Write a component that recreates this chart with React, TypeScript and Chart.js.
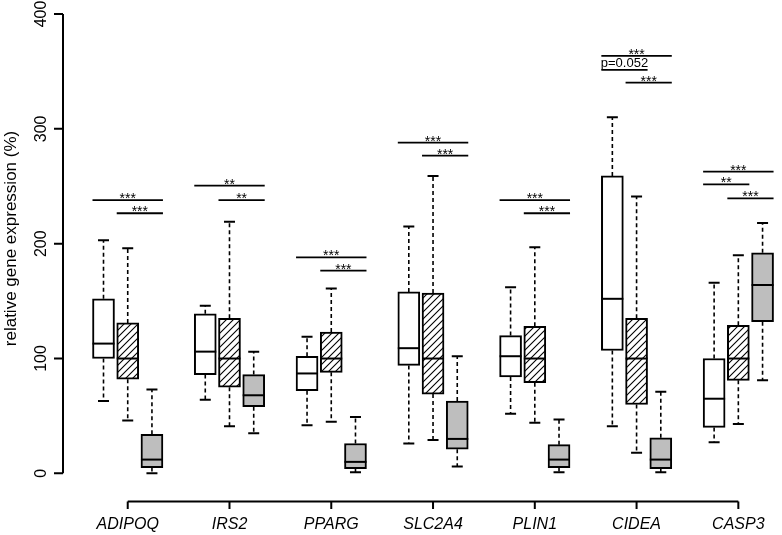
import React, { useEffect, useRef } from 'react';
import { Chart, registerables } from 'chart.js';

Chart.register(...registerables);

// ---------- data ----------
const GENES = ['ADIPOQ', 'IRS2', 'PPARG', 'SLC2A4', 'PLIN1', 'CIDEA', 'CASP3'];
const Y_TICKS = [0, 100, 200, 300, 400];
const Y_TITLE = 'relative gene expression (%)';

// group 1 (white)
const WHITE_MIN = [63, 64, 42, 26, 52, 41, 27];
const WHITE_Q1 = [100, 86, 72, 94, 84, 107, 40];
const WHITE_MED = [113, 106, 87, 109, 102, 152, 65];
const WHITE_Q3 = [152, 139, 102, 158, 120, 259, 100];
const WHITE_MAX = [203, 146, 119, 215, 162, 310, 166];

// group 2 (hatched)
const HATCH_MIN = [46, 41, 45, 29, 44, 18, 43];
const HATCH_Q1 = [82, 75, 88, 69, 79, 60, 81];
const HATCH_MED = [100, 100, 100, 100, 100, 100, 100];
const HATCH_Q3 = [131, 135, 123, 157, 128, 135, 129];
const HATCH_MAX = [196, 219, 161, 259, 197, 241, 190];

// group 3 (grey)
const GREY_MIN = [0, 35, 1, 6, 1, 1, 81];
const GREY_Q1 = [5, 58, 4, 21, 5, 4, 132];
const GREY_MED = [12, 68, 10, 30, 12, 12, 164];
const GREY_Q3 = [34, 86, 26, 63, 25, 31, 192];
const GREY_MAX = [73, 106, 49, 102, 47, 71, 218];

// significance brackets
const SIG_GENE = [0, 0, 1, 1, 2, 2, 3, 3, 4, 4, 5, 5, 5, 6, 6, 6];
const SIG_FROM = [0, 1, 0, 1, 0, 1, 0, 1, 0, 1, 0, 0, 1, 0, 0, 1];
const SIG_TO = [2, 2, 2, 2, 2, 2, 2, 2, 2, 2, 2, 1, 2, 2, 1, 2];
const SIG_Y = [238, 226.5, 250.5, 238, 188, 176.5, 288, 276.7, 238, 226.5, 363.5, 351.3, 340.2, 262.7, 251.7, 239.5];
const SIG_LABEL = ['***', '***', '**', '**', '***', '***', '***', '***', '***', '***', '***', 'p=0.052', '***', '***', '**', '***'];

// ---------- layout / style ----------
const FONT = "'Liberation Sans', Arial, Helvetica, sans-serif";
const GROUP_OFFSET = [-0.238, 0, 0.238];
const BOX_PX = 22;
const CAP_HALF_PX = 5.5;

const GROUPS = [
  { min: WHITE_MIN, q1: WHITE_Q1, med: WHITE_MED, q3: WHITE_Q3, max: WHITE_MAX },
  { min: HATCH_MIN, q1: HATCH_Q1, med: HATCH_MED, q3: HATCH_Q3, max: HATCH_MAX },
  { min: GREY_MIN, q1: GREY_Q1, med: GREY_MED, q3: GREY_Q3, max: GREY_MAX },
];

function makeHatch(): CanvasPattern | string {
  const s = 7;
  const c = document.createElement('canvas');
  c.width = s;
  c.height = s;
  const g = c.getContext('2d');
  if (!g) return '#fff';
  g.fillStyle = '#ffffff';
  g.fillRect(0, 0, s, s);
  g.strokeStyle = '#000';
  g.lineWidth = 1.1;
  g.beginPath();
  g.moveTo(-1, s + 1);
  g.lineTo(s + 1, -1);
  g.moveTo(-1, 1);
  g.lineTo(1, -1);
  g.moveTo(s - 1, s + 1);
  g.lineTo(s + 1, s - 1);
  g.stroke();
  return g.createPattern(c, 'repeat') || '#fff';
}

const whiskerPlugin = {
  id: 'whiskers',
  beforeDatasetsDraw(chart: any) {
    const { ctx, scales } = chart;
    const x = scales.x;
    const y = scales.y;
    ctx.save();
    ctx.strokeStyle = '#000';
    GROUPS.forEach((grp, gi) => {
      GENES.forEach((_, i) => {
        const cx = x.getPixelForValue(i + 1 + GROUP_OFFSET[gi]);
        const pMin = y.getPixelForValue(grp.min[i]);
        const pQ1 = y.getPixelForValue(grp.q1[i]);
        const pQ3 = y.getPixelForValue(grp.q3[i]);
        const pMax = y.getPixelForValue(grp.max[i]);
        ctx.lineWidth = 1.6;
        ctx.setLineDash([4, 3]);
        ctx.beginPath();
        ctx.moveTo(cx, pQ3);
        ctx.lineTo(cx, pMax);
        ctx.moveTo(cx, pQ1);
        ctx.lineTo(cx, pMin);
        ctx.stroke();
        ctx.setLineDash([]);
        ctx.lineWidth = 2;
        ctx.beginPath();
        ctx.moveTo(cx - CAP_HALF_PX, pMax);
        ctx.lineTo(cx + CAP_HALF_PX, pMax);
        ctx.moveTo(cx - CAP_HALF_PX, pMin);
        ctx.lineTo(cx + CAP_HALF_PX, pMin);
        ctx.stroke();
      });
    });
    ctx.restore();
  },
  afterDatasetsDraw(chart: any) {
    const { ctx, scales, chartArea } = chart;
    const x = scales.x;
    const y = scales.y;
    ctx.save();
    ctx.strokeStyle = '#000';
    ctx.fillStyle = '#000';
    // medians
    ctx.lineWidth = 2;
    GROUPS.forEach((grp, gi) => {
      GENES.forEach((_, i) => {
        const cx = x.getPixelForValue(i + 1 + GROUP_OFFSET[gi]);
        const pm = y.getPixelForValue(grp.med[i]);
        ctx.beginPath();
        ctx.moveTo(cx - BOX_PX / 2, pm);
        ctx.lineTo(cx + BOX_PX / 2, pm);
        ctx.stroke();
      });
    });

    // y axis
    const ax = chartArea.left;
    ctx.lineWidth = 2;
    ctx.beginPath();
    ctx.moveTo(ax, y.getPixelForValue(Y_TICKS[0]));
    ctx.lineTo(ax, y.getPixelForValue(Y_TICKS[Y_TICKS.length - 1]));
    Y_TICKS.forEach((t) => {
      const py = y.getPixelForValue(t);
      ctx.moveTo(ax, py);
      ctx.lineTo(ax - 9, py);
    });
    ctx.stroke();
    ctx.font = `16px ${FONT}`;
    ctx.textAlign = 'center';
    ctx.textBaseline = 'alphabetic';
    Y_TICKS.forEach((t) => {
      const py = y.getPixelForValue(t);
      ctx.save();
      ctx.translate(45.5, py);
      ctx.rotate(-Math.PI / 2);
      ctx.fillText(String(t), 0, 0);
      ctx.restore();
    });
    // y title
    ctx.save();
    ctx.font = `17px ${FONT}`;
    ctx.translate(15.5, 238.5);
    ctx.rotate(-Math.PI / 2);
    ctx.fillText(Y_TITLE, 0, 0);
    ctx.restore();

    // x axis
    const by = chartArea.bottom;
    ctx.beginPath();
    ctx.moveTo(x.getPixelForValue(1), by);
    ctx.lineTo(x.getPixelForValue(GENES.length), by);
    GENES.forEach((_, i) => {
      const px = x.getPixelForValue(i + 1);
      ctx.moveTo(px, by);
      ctx.lineTo(px, by + 7.5);
    });
    ctx.stroke();

    // significance brackets
    SIG_GENE.forEach((g, k) => {
      const x0 = x.getPixelForValue(g + 1 + GROUP_OFFSET[SIG_FROM[k]]) - BOX_PX / 2;
      const x1 = x.getPixelForValue(g + 1 + GROUP_OFFSET[SIG_TO[k]]) + BOX_PX / 2;
      const py = y.getPixelForValue(SIG_Y[k]);
      ctx.lineWidth = 1.8;
      ctx.beginPath();
      ctx.moveTo(x0, py);
      ctx.lineTo(x1, py);
      ctx.stroke();
      const lab = SIG_LABEL[k];
      ctx.textAlign = 'center';
      ctx.textBaseline = 'alphabetic';
      if (lab.startsWith('p')) {
        ctx.font = `13px ${FONT}`;
        ctx.fillText(lab, (x0 + x1) / 2, py - 2.5);
      } else {
        ctx.font = `14px ${FONT}`;
        ctx.fillText(lab, (x0 + x1) / 2, py + 3);
      }
    });
    ctx.restore();
  },
};

export default function App() {
  const ref = useRef<HTMLCanvasElement | null>(null);

  useEffect(() => {
    if (!ref.current) return;
    const hatch = makeHatch();
    const fills = ['#ffffff', hatch, '#bebebe'];
    const datasets = GROUPS.map((grp, gi) => ({
      label: `group ${gi + 1}`,
      data: GENES.map((_, i) => ({ x: i + 1 + GROUP_OFFSET[gi], y: [grp.q1[i], grp.q3[i]] })),
      backgroundColor: fills[gi],
      borderColor: '#000',
      borderWidth: 2,
      borderSkipped: false,
      barThickness: BOX_PX,
      grouped: false,
    }));

    const chart = new Chart(ref.current, {
      type: 'bar',
      data: { datasets } as any,
      options: {
        animation: false,
        responsive: false,
        maintainAspectRatio: false,
        layout: { padding: { top: 14, right: 0, left: 0, bottom: 0 } },
        plugins: { legend: { display: false }, tooltip: { enabled: false } },
        scales: {
          x: {
            type: 'linear',
            offset: false,
            min: 0.364,
            max: 7.429,
            grid: { display: false, drawTicks: false },
            border: { display: false },
            afterBuildTicks: (scale: any) => {
              scale.ticks = GENES.map((_, i) => ({ value: i + 1 }));
            },
            afterFit: (scale: any) => {
              scale.height = 33.5;
            },
            ticks: {
              autoSkip: false,
              maxRotation: 0,
              minRotation: 0,
              padding: 13.7,
              color: '#000',
              font: { family: FONT, size: 16, style: 'italic' },
              callback: (v: any) => GENES[Math.round(Number(v)) - 1] ?? '',
            },
          },
          y: {
            type: 'linear',
            min: -24.5,
            max: 400,
            grid: { display: false, drawTicks: false },
            border: { display: false },
            ticks: { display: false },
            afterBuildTicks: (scale: any) => {
              scale.ticks = Y_TICKS.map((v) => ({ value: v }));
            },
            afterFit: (scale: any) => {
              scale.width = 63;
            },
          },
        },
      } as any,
      plugins: [whiskerPlugin],
    });
    return () => chart.destroy();
  }, []);

  return (
    <div style={{ position: 'fixed', left: 0, top: 0, width: 782, height: 535, background: '#fff' }}>
      <canvas ref={ref} width={782} height={535} style={{ display: 'block', width: 782, height: 535 }} />
    </div>
  );
}
